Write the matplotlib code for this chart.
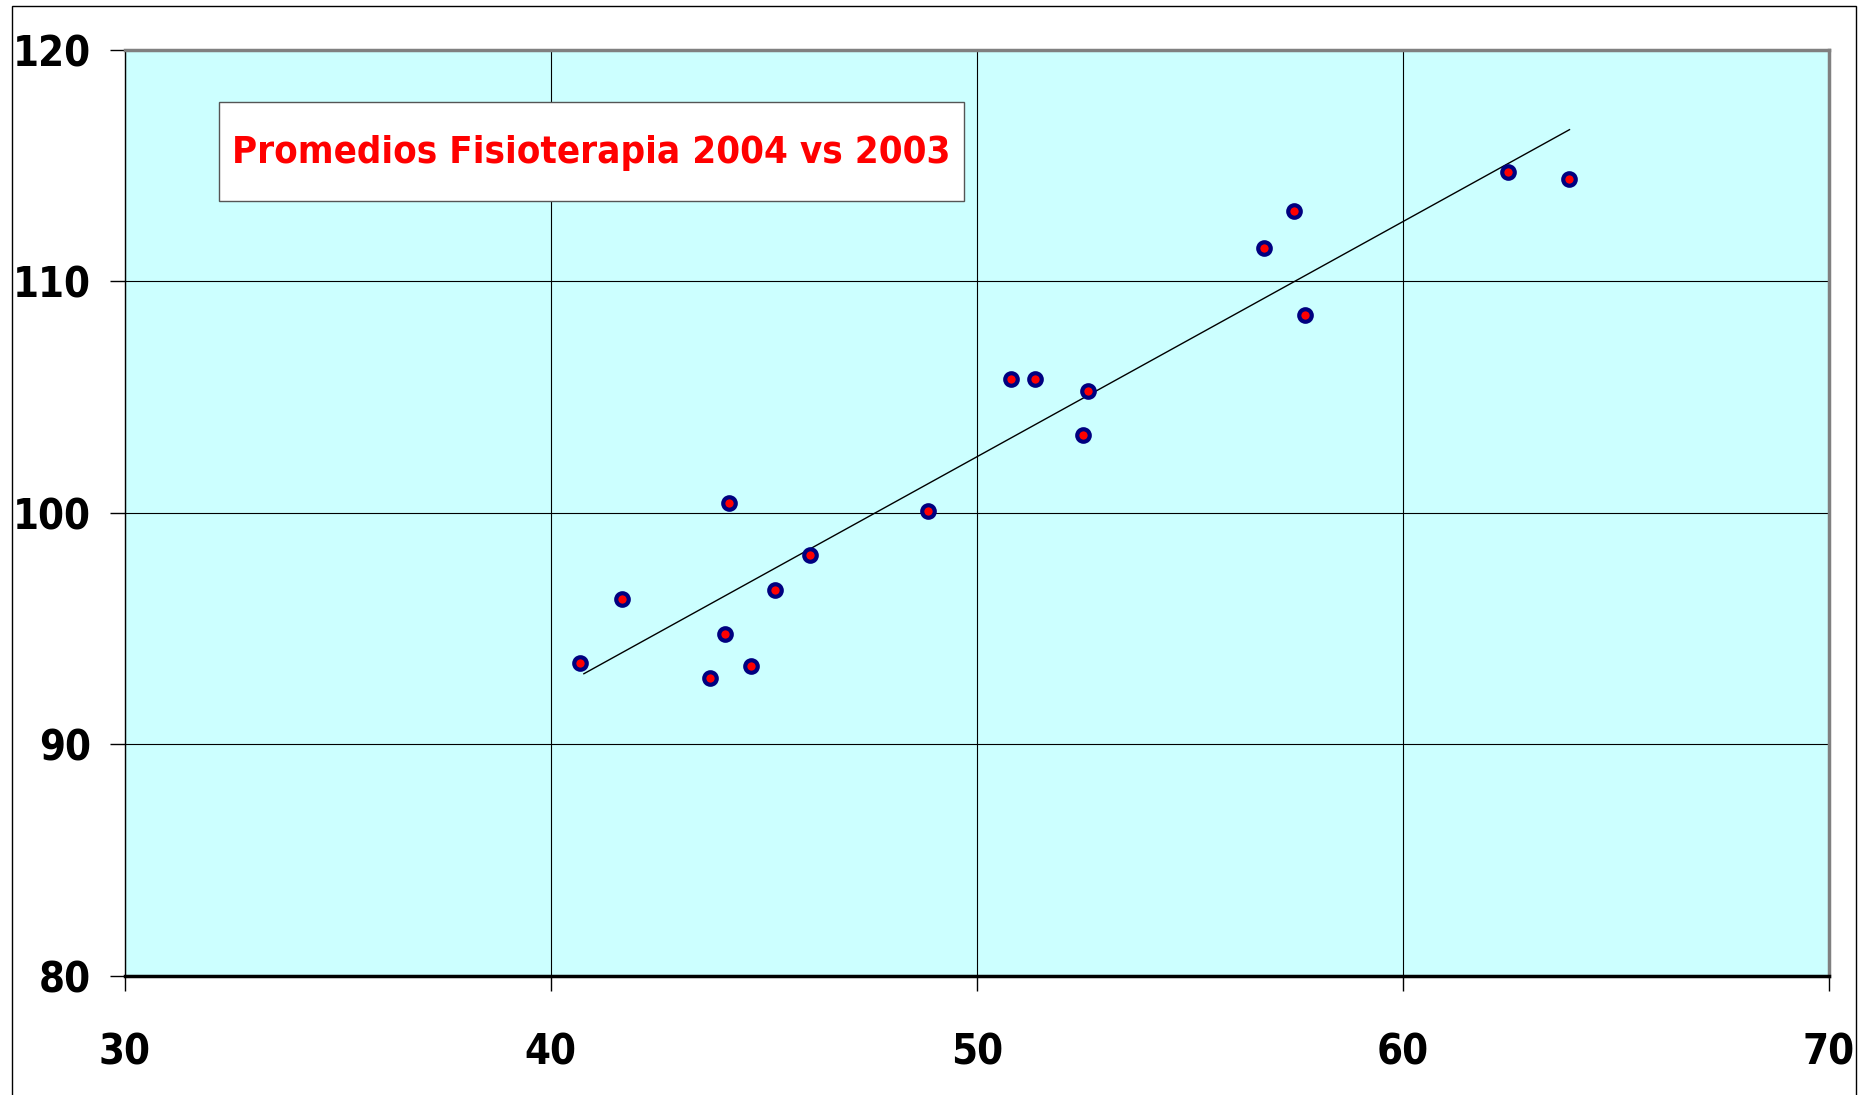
import numpy as np
import matplotlib
matplotlib.use("Agg")
import matplotlib.pyplot as plt
from matplotlib.patches import Rectangle
from matplotlib import font_manager

# ---- data ----
x_2003 = [40.68, 41.68, 43.74, 44.10, 44.19, 44.71, 45.27, 46.08, 48.86,
          50.81, 51.36, 52.50, 52.61, 56.73, 57.45, 57.70, 62.46, 63.91]
y_2004 = [93.52, 96.29, 92.86, 94.75, 100.44, 93.37, 96.65, 98.18, 100.08,
          105.76, 105.76, 103.35, 105.25, 111.45, 113.03, 108.53, 114.72, 114.42]
x_ticks = [30, 40, 50, 60, 70]
y_ticks = [80, 90, 100, 110, 120]
title_text = "Promedios Fisioterapia 2004 vs 2003"

cond = [f for f in font_manager.fontManager.ttflist
        if f.name == "DejaVu Sans" and "ondensed" in f.fname and "Bold" in f.fname
        and "Oblique" not in f.fname]
if cond:
    fprop = lambda size: font_manager.FontProperties(fname=cond[0].fname, size=size)
else:
    fprop = lambda size: font_manager.FontProperties(family="DejaVu Sans", weight="bold",
                                                     stretch="condensed", size=size)

W, H = 1859, 1095
fig = plt.figure(figsize=(W / 100, H / 100), dpi=100)
fig.patch.set_facecolor("white")

# outer frame of chart area
fig.add_artist(Rectangle((12 / W, -0.01), (1856 - 12) / W, 1 - 6 / H + 0.01,
                         transform=fig.transFigure, fill=False,
                         edgecolor="black", linewidth=1.0))

ax = fig.add_axes([124.5 / W, 1 - 975.8 / H, (1829 - 124.5) / W, (975.8 - 49.8) / H])
ax.set_facecolor("#CCFFFF")
ax.set_xlim(30, 70)
ax.set_ylim(80, 120)
ax.set_xticks(x_ticks)
ax.set_yticks(y_ticks)
ax.grid(True, color="black", linewidth=0.8)
ax.set_axisbelow(True)

for side in ("top", "right"):
    ax.spines[side].set_color("#808080")
    ax.spines[side].set_linewidth(2.5)
ax.spines["left"].set_color("black")
ax.spines["left"].set_linewidth(1.0)
ax.spines["bottom"].set_color("black")
ax.spines["bottom"].set_linewidth(2.5)

ax.tick_params(axis="both", direction="out", length=11, width=1, color="black")
ax.tick_params(axis="x", pad=29)
ax.tick_params(axis="y", pad=13)
for lab in ax.get_xticklabels() + ax.get_yticklabels():
    lab.set_fontproperties(fprop(30))

# trend line (linear regression)
xa = np.array(x_2003)
ya = np.array(y_2004)
m, b = np.polyfit(xa, ya, 1)
xl = np.array([xa.min() + 0.1, xa.max()])
ax.plot(xl, m * xl + b, color="black", linewidth=1.0, zorder=3)

# points
ax.plot(x_2003, y_2004, linestyle="none", marker="o", markersize=9,
        markerfacecolor="red", markeredgecolor="#000080", markeredgewidth=3.0,
        zorder=4)

# title box
ax.add_patch(Rectangle((0.0554, 0.8362), 0.4925 - 0.0554, 0.9436 - 0.8362,
                       transform=ax.transAxes, facecolor="white",
                       edgecolor="#555555", linewidth=1.0, zorder=5))
ax.text((0.0554 + 0.4925) / 2, 0.889, title_text, transform=ax.transAxes,
        ha="center", va="center", color="red", fontproperties=fprop(27.5),
        zorder=6)

fig.savefig("out.png", dpi=100)
